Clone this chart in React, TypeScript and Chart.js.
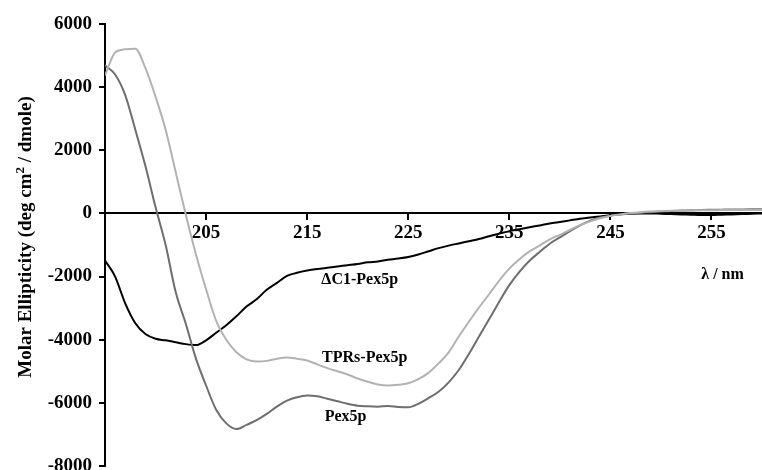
import React, { useEffect, useRef } from "react";
import { Chart, registerables } from "chart.js";

Chart.register(...registerables);

// Wavelength grid (nm)
const wavelengths = [
  195, 196, 197, 198, 199, 200, 201, 202, 203, 204, 205, 206, 207, 208, 209, 210,
  211, 212, 213, 214, 215, 216, 217, 218, 219, 220, 221, 222, 223, 224, 225, 226,
  227, 228, 229, 230, 231, 232, 233, 234, 235, 236, 237, 238, 239, 240, 241, 242,
  243, 244, 245, 246, 247, 248, 249, 250, 251, 252, 253, 254, 255, 256, 257, 258,
  259, 260,
];

// Molar ellipticity (deg cm2 / dmole)
const pex5p = [
  4690, 4400, 3750, 2650, 1500, 200, -1000, -2500, -3500, -4600, -5450, -6220, -6650, -6830, -6700, -6550,
  -6350, -6120, -5930, -5820, -5770, -5790, -5870, -5950, -6030, -6090, -6110, -6120, -6100, -6130, -6140, -6030,
  -5850, -5650, -5350, -4960, -4450, -3900, -3350, -2800, -2270, -1850, -1500, -1220, -960, -760, -560, -380,
  -230, -130, -70, -30, -5, 20, 40, 60, 80, 90, 100, 110, 115, 120, 125, 128,
  130, 130,
];

const tprsPex5p = [
  4370, 5100, 5200, 5220, 4600, 3700, 2650, 1300, -50, -1300, -2400, -3400, -4000, -4400, -4620, -4690,
  -4670, -4600, -4560, -4600, -4660, -4780, -4900, -5000, -5100, -5230, -5330, -5420, -5450, -5430, -5380, -5250,
  -5050, -4750, -4400, -3900, -3430, -2980, -2560, -2130, -1750, -1450, -1200, -1020, -820, -680, -520, -370,
  -250, -150, -80, -30, 10, 40, 60, 75, 85, 90, 95, 100, 100, 105, 108, 110,
  110, 110,
];

const dC1Pex5p = [
  -1490, -2000, -2850, -3480, -3820, -3970, -4020, -4080, -4140, -4170, -4020, -3780, -3540, -3260, -2950, -2720,
  -2420, -2200, -1980, -1880, -1810, -1760, -1720, -1680, -1640, -1600, -1550, -1520, -1470, -1430, -1380, -1300,
  -1200, -1100, -1020, -950, -880, -810, -720, -640, -560, -500, -440, -380, -320, -270, -220, -170,
  -130, -95, -60, -30, -10, 0, 0, -10, -20, -30, -40, -50, -50, -40, -30, -20,
  -10, 0,
];

const xTicks = [205, 215, 225, 235, 245, 255];
const yTicks = [-8000, -6000, -4000, -2000, 0, 2000, 4000, 6000];

// Curve annotations (text, wavelength, ellipticity)
const labelTexts = ["\u0394C1-Pex5p", "TPRs-Pex5p", "Pex5p", "\u03bb / nm"];
const labelX = [220.2, 220.7, 218.8, 256.1];
const labelY = [-2090, -4590, -6430, -1930];

const FONT = '"Liberation Serif", "Times New Roman", serif';

const toPoints = (vals: number[]) => wavelengths.map((w, i) => ({ x: w, y: vals[i] }));

const annotationPlugin = {
  id: "annotations",
  afterDraw(chart: any) {
    const ctx = chart.ctx as CanvasRenderingContext2D;
    const xs = chart.scales.x;
    const ys = chart.scales.y;
    ctx.save();
    ctx.fillStyle = "#000";
    ctx.font = `bold 16px ${FONT}`;
    ctx.textAlign = "center";
    ctx.textBaseline = "middle";
    labelTexts.forEach((t, i) => {
      ctx.fillText(t, xs.getPixelForValue(labelX[i]), ys.getPixelForValue(labelY[i]));
    });
    // Y axis title with superscript
    const p1 = "Molar Ellipticity (deg cm";
    const sup = "2";
    const p3 = " / dmole)";
    ctx.translate(24, 237);
    ctx.rotate(-Math.PI / 2);
    ctx.textAlign = "left";
    ctx.textBaseline = "alphabetic";
    ctx.font = `bold 19px ${FONT}`;
    const w1 = ctx.measureText(p1).width;
    const w3 = ctx.measureText(p3).width;
    ctx.font = `bold 13px ${FONT}`;
    const w2 = ctx.measureText(sup).width;
    const total = w1 + w2 + w3;
    let x = -total / 2;
    const base = 7;
    ctx.font = `bold 19px ${FONT}`;
    ctx.fillText(p1, x, base);
    x += w1;
    ctx.font = `bold 13px ${FONT}`;
    ctx.fillText(sup, x, base - 7);
    x += w2;
    ctx.font = `bold 19px ${FONT}`;
    ctx.fillText(p3, x, base);
    ctx.restore();
  },
};

export default function App() {
  const ref = useRef<HTMLCanvasElement>(null);
  useEffect(() => {
    const canvas = ref.current;
    if (!canvas) return;
    const tickFont = { family: FONT, weight: "bold" as const, size: 19 };
    const chart = new Chart(canvas, {
      type: "line",
      data: {
        datasets: [
          {
            label: "TPRs-Pex5p",
            data: toPoints(tprsPex5p),
            borderColor: "#b2b2b2",
            borderWidth: 2,
            pointRadius: 0,
            cubicInterpolationMode: "monotone",
            fill: false,
          },
          {
            label: "Pex5p",
            data: toPoints(pex5p),
            borderColor: "#6e6e6e",
            borderWidth: 2,
            pointRadius: 0,
            cubicInterpolationMode: "monotone",
            fill: false,
          },
          {
            label: "\u0394C1-Pex5p",
            data: toPoints(dC1Pex5p),
            borderColor: "#000000",
            borderWidth: 2,
            pointRadius: 0,
            cubicInterpolationMode: "monotone",
            fill: false,
          },
        ],
      },
      options: {
        responsive: false,
        animation: false,
        layout: { padding: { top: 24, right: 0, bottom: 4, left: 0 } },
        plugins: {
          legend: { display: false },
          tooltip: { enabled: false },
        },
        scales: {
          x: {
            type: "linear",
            min: 195,
            max: 260,
            position: { y: 0 } as any,
            afterBuildTicks: (s: any) => {
              s.ticks = xTicks.map((v) => ({ value: v }));
            },
            afterFit: (s: any) => {
              s.paddingLeft = 0;
              s.paddingRight = 0;
            },
            grid: {
              drawOnChartArea: false,
              drawTicks: true,
              tickLength: 6,
              color: "#000",
              lineWidth: 2,
            },
            border: { display: true, color: "#000", width: 2 },
            ticks: {
              color: "#000",
              font: tickFont,
              padding: 2,
              maxRotation: 0,
              autoSkip: false,
              callback: (v: any) => String(v),
            },
          },
          y: {
            type: "linear",
            min: -8000,
            max: 6000,
            position: "left",
            afterBuildTicks: (s: any) => {
              s.ticks = yTicks.map((v) => ({ value: v }));
            },
            afterFit: (s: any) => {
              s.width = 105;
              s.paddingTop = 0;
              s.paddingBottom = 0;
            },
            grid: {
              drawOnChartArea: false,
              drawTicks: true,
              tickLength: 6,
              color: "#000",
              lineWidth: 2,
            },
            border: { display: true, color: "#000", width: 2 },
            ticks: {
              color: "#000",
              font: tickFont,
              padding: 7,
              autoSkip: false,
              callback: (v: any) => String(v),
            },
          },
        },
      },
      plugins: [annotationPlugin],
    });
    return () => chart.destroy();
  }, []);
  return (
    <div style={{ position: "absolute", left: 0, top: 0, width: 762, height: 470, background: "#fff" }}>
      <canvas ref={ref} width={762} height={470} style={{ display: "block" }} />
    </div>
  );
}
